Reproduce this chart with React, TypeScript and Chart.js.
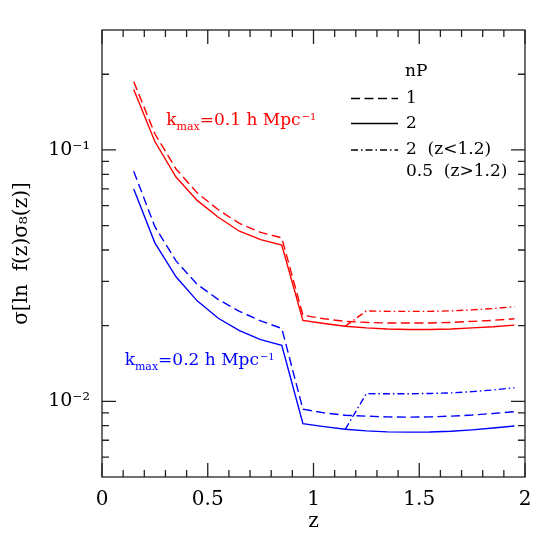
import React, { useEffect, useRef } from "react";
import { Chart, registerables } from "chart.js";

Chart.register(...registerables);

// ---- data ----
const zValues = [0.15, 0.25, 0.35, 0.45, 0.55, 0.65, 0.75, 0.85, 0.95, 1.05, 1.15, 1.25, 1.35, 1.45, 1.55, 1.65, 1.75, 1.85, 1.95];

// kmax = 0.1 h/Mpc (red)
const redNP1 = [0.187, 0.116, 0.084, 0.0675, 0.0578, 0.051, 0.047, 0.0447, 0.022, 0.0213, 0.0208, 0.0206, 0.0205, 0.0205, 0.0205, 0.0206, 0.0208, 0.021, 0.0213];
const redNP2 = [0.174, 0.108, 0.078, 0.063, 0.054, 0.0475, 0.044, 0.0418, 0.021, 0.0204, 0.0199, 0.0196, 0.0194, 0.0193, 0.0193, 0.0194, 0.0196, 0.0198, 0.0201];
const redNPMixed = [null, null, null, null, null, null, null, null, null, null, 0.0199, 0.0229, 0.0228, 0.0228, 0.0228, 0.0229, 0.0231, 0.0234, 0.0238];

// kmax = 0.2 h/Mpc (blue)
const blueNP1 = [0.0822, 0.0495, 0.0362, 0.0292, 0.0254, 0.0228, 0.0209, 0.0195, 0.0093, 0.009, 0.0088, 0.00873, 0.00867, 0.00865, 0.00867, 0.00873, 0.00882, 0.00895, 0.0091];
const blueNP2 = [0.07, 0.0427, 0.0313, 0.0251, 0.0214, 0.0191, 0.0176, 0.0167, 0.00815, 0.00793, 0.00774, 0.00763, 0.00756, 0.00754, 0.00755, 0.0076, 0.0077, 0.00783, 0.00798];
const blueNPMixed = [null, null, null, null, null, null, null, null, null, null, 0.00774, 0.01073, 0.01072, 0.01072, 0.01075, 0.0108, 0.01093, 0.0111, 0.01133];

// ---- axes ----
const xMin = 0;
const xMax = 2;
const yMin = 0.005;
const yMax = 0.3;
const xTickValues = [0, 0.5, 1, 1.5, 2];
const xMinorTicks = [0.1, 0.2, 0.3, 0.4, 0.6, 0.7, 0.8, 0.9, 1.1, 1.2, 1.3, 1.4, 1.6, 1.7, 1.8, 1.9];
const yTickValues = [0.01, 0.1];
const yTickLabels = ["10\u207B\u00B2", "10\u207B\u00B9"];
const yMinorTicks = [0.006, 0.007, 0.008, 0.009, 0.02, 0.03, 0.04, 0.05, 0.06, 0.07, 0.08, 0.09, 0.2];
const yTitle = "\u03C3[ln  f(z)\u03C3\u2088(z)]";
const xTitle = "z";

// ---- annotations / legend ----
const redLabel = { z: 0.304, v: 0.126, value: "0.1" };
const blueLabel = { z: 0.107, v: 0.014, value: "0.2" };
const legendTitle = "nP";
const legendLabels = ["1", "2", "2  (z<1.2)", "0.5  (z>1.2)"];

const FONT = '"DejaVu Serif", serif';
const RED = "#ff0000";
const BLUE = "#0000ff";
const DASH = [9, 4.5];
const DASHDOT = [7, 3, 1.5, 3];

function toPoints(vals: (number | null)[]) {
  return zValues.map((z, i) => ({ x: z, y: vals[i] }));
}

const framePlugin = {
  id: "frame",
  afterDatasetsDraw(chart: any) {
    const { ctx, chartArea, scales } = chart;
    const { left, right, top, bottom } = chartArea;
    const x = scales.x;
    const y = scales.y;
    ctx.save();
    ctx.strokeStyle = "#222";
    ctx.lineWidth = 1.3;
    ctx.setLineDash([]);
    ctx.strokeRect(left, top, right - left, bottom - top);
    ctx.beginPath();
    const major = 14;
    const minor = 7;
    xTickValues.forEach((v) => {
      const p = x.getPixelForValue(v);
      ctx.moveTo(p, bottom);
      ctx.lineTo(p, bottom - major);
      ctx.moveTo(p, top);
      ctx.lineTo(p, top + major);
    });
    xMinorTicks.forEach((v) => {
      const p = x.getPixelForValue(v);
      ctx.moveTo(p, bottom);
      ctx.lineTo(p, bottom - minor);
      ctx.moveTo(p, top);
      ctx.lineTo(p, top + minor);
    });
    yTickValues.forEach((v) => {
      const p = y.getPixelForValue(v);
      ctx.moveTo(left, p);
      ctx.lineTo(left + major, p);
      ctx.moveTo(right, p);
      ctx.lineTo(right - major, p);
    });
    yMinorTicks.forEach((v) => {
      const p = y.getPixelForValue(v);
      ctx.moveTo(left, p);
      ctx.lineTo(left + minor, p);
      ctx.moveTo(right, p);
      ctx.lineTo(right - minor, p);
    });
    ctx.stroke();
    ctx.restore();
  },
};

function drawKmax(ctx: CanvasRenderingContext2D, x0: number, y0: number, val: string, color: string) {
  let x = x0;
  ctx.fillStyle = color;
  ctx.textAlign = "left";
  ctx.textBaseline = "alphabetic";
  ctx.font = `17px ${FONT}`;
  ctx.fillText("k", x, y0);
  x += ctx.measureText("k").width;
  ctx.font = `11px ${FONT}`;
  ctx.fillText("max", x, y0 + 5);
  x += ctx.measureText("max").width;
  ctx.font = `17px ${FONT}`;
  const main = `=${val} h Mpc`;
  ctx.fillText(main, x, y0);
  x += ctx.measureText(main).width + 1;
  ctx.font = `10px ${FONT}`;
  ctx.fillText("\u2212" + "1", x, y0 - 5);
}

const annotationPlugin = {
  id: "annotations",
  afterDraw(chart: any) {
    const { ctx, chartArea, scales } = chart;
    const x = scales.x;
    const y = scales.y;
    ctx.save();
    drawKmax(ctx, x.getPixelForValue(redLabel.z), y.getPixelForValue(redLabel.v), redLabel.value, RED);
    drawKmax(ctx, x.getPixelForValue(blueLabel.z), y.getPixelForValue(blueLabel.v), blueLabel.value, BLUE);

    // y-axis title
    ctx.save();
    ctx.translate(22, (chartArea.top + chartArea.bottom) / 2);
    ctx.rotate(-Math.PI / 2);
    ctx.fillStyle = "#000";
    ctx.textAlign = "center";
    ctx.textBaseline = "middle";
    ctx.font = `20px ${FONT}`;
    ctx.fillText(yTitle, 0, 0);
    ctx.restore();

    // legend
    const right = chartArea.right;
    const top = chartArea.top;
    const lineX0 = right - 174;
    const lineX1 = right - 127;
    const textX = right - 119;
    ctx.fillStyle = "#000";
    ctx.textAlign = "left";
    ctx.textBaseline = "middle";
    ctx.font = `17px ${FONT}`;
    ctx.fillText(legendTitle, textX - 1, top + 42);
    const rows = [top + 68.5, top + 93.5, top + 120];
    const dashes = [DASH, [], DASHDOT];
    rows.forEach((ry, i) => {
      ctx.strokeStyle = "#000";
      ctx.lineWidth = 1.4;
      ctx.setLineDash(dashes[i]);
      ctx.beginPath();
      ctx.moveTo(lineX0, ry);
      ctx.lineTo(lineX1, ry);
      ctx.stroke();
      ctx.fillText(legendLabels[i], textX, ry);
    });
    ctx.setLineDash([]);
    ctx.fillText(legendLabels[3], textX, top + 142);
    ctx.restore();
  },
};

export default function App() {
  const ref = useRef<HTMLCanvasElement>(null);
  useEffect(() => {
    if (!ref.current) return;
    const line = (data: (number | null)[], color: string, dash: number[]) => ({
      data: toPoints(data),
      borderColor: color,
      backgroundColor: color,
      borderWidth: 1.4,
      borderDash: dash,
      pointRadius: 0,
      tension: 0,
      fill: false,
      spanGaps: false,
    });
    const chart = new Chart(ref.current, {
      type: "line",
      data: {
        datasets: [
          line(redNP1, RED, DASH),
          line(redNP2, RED, []),
          line(redNPMixed, RED, DASHDOT),
          line(blueNP1, BLUE, DASH),
          line(blueNP2, BLUE, []),
          line(blueNPMixed, BLUE, DASHDOT),
        ] as any,
      },
      options: {
        animation: false,
        responsive: false,
        layout: { padding: { top: 30, right: 29, left: 0, bottom: 0 } },
        plugins: { legend: { display: false }, tooltip: { enabled: false } },
        scales: {
          x: {
            type: "linear",
            min: xMin,
            max: xMax,
            grid: { display: false, drawTicks: false },
            border: { display: false },
            afterBuildTicks: (s: any) => {
              s.ticks = xTickValues.map((v) => ({ value: v }));
            },
            afterFit: (s: any) => {
              s.height = 77;
            },
            ticks: {
              color: "#000",
              font: { family: FONT, size: 20 },
              padding: 11,
              maxRotation: 0,
              autoSkip: false,
              callback: (v: any) => String(v),
            },
            title: {
              display: true,
              text: xTitle,
              color: "#000",
              font: { family: FONT, size: 20 },
              padding: { top: 0, bottom: 20 },
            },
          },
          y: {
            type: "logarithmic",
            min: yMin,
            max: yMax,
            grid: { display: false, drawTicks: false },
            border: { display: false },
            afterBuildTicks: (s: any) => {
              s.ticks = yTickValues.map((v) => ({ value: v }));
            },
            afterFit: (s: any) => {
              s.width = 102;
            },
            ticks: {
              color: "#000",
              font: { family: FONT, size: 19 },
              padding: 12,
              autoSkip: false,
              callback: (v: any) => {
                const i = yTickValues.indexOf(Number(v));
                return i >= 0 ? yTickLabels[i] : "";
              },
            },
            title: { display: false },
          },
        },
      },
      plugins: [framePlugin, annotationPlugin],
    } as any);
    return () => chart.destroy();
  }, []);
  return (
    <div style={{ position: "absolute", left: 0, top: 0, width: 554, height: 554, background: "#fff" }}>
      <canvas ref={ref} width={554} height={554} style={{ display: "block" }} />
    </div>
  );
}
